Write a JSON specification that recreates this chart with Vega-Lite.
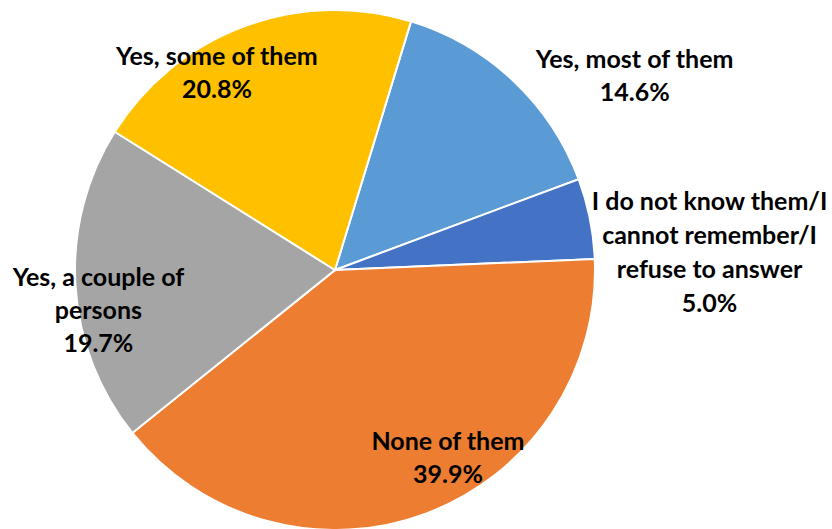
{
  "$schema": "https://vega.github.io/schema/vega-lite/v6.json",
  "width": 670,
  "height": 518,
  "autosize": {"type": "none"},
  "padding": {"left": 0, "top": 11, "right": 162, "bottom": 0},
  "background": "white",
  "config": {"view": {"stroke": null}},
  "data": {
    "values": [
      {"answer": "Yes, most of them", "share": 14.6, "ord": 1, "label": "Yes, most of them\n14.6%"},
      {"answer": "I do not know them/I cannot remember/I refuse to answer", "share": 5.0, "ord": 2, "label": "I do not know them/I\ncannot remember/I\nrefuse to answer\n5.0%"},
      {"answer": "None of them", "share": 39.9, "ord": 3, "label": "None of them\n39.9%"},
      {"answer": "Yes, a couple of persons", "share": 19.7, "ord": 4, "label": "Yes, a couple of\npersons\n19.7%"},
      {"answer": "Yes, some of them", "share": 20.8, "ord": 5, "label": "Yes, some of them\n20.8%"}
    ]
  },
  "encoding": {
    "theta": {"field": "share", "type": "quantitative", "stack": true, "scale": {"range": [0.2967, 6.5799]}},
    "order": {"field": "ord", "type": "quantitative"}
  },
  "layer": [
    {
      "mark": {"type": "arc", "outerRadius": 260, "stroke": "white", "strokeWidth": 2},
      "encoding": {
        "color": {
          "field": "answer", "type": "nominal", "legend": null,
          "scale": {
            "domain": ["Yes, most of them", "I do not know them/I cannot remember/I refuse to answer", "None of them", "Yes, a couple of persons", "Yes, some of them"],
            "range": ["#5B9BD5", "#4472C4", "#ED7D31", "#A5A5A5", "#FFC000"]
          }
        }
      }
    },
    {
      "mark": {"type": "text", "radius": 300, "dx": 94, "dy": 8, "font": "Lato", "fontWeight": "bold", "fontSize": 25, "lineBreak": "\n", "lineHeight": 33, "align": "center", "baseline": "middle", "color": "black"},
      "encoding": {"text": {"condition": {"test": "datum.ord == 1", "field": "label"}, "value": ""}}
    },
    {
      "mark": {"type": "text", "radius": 375, "dx": 7, "dy": 6, "font": "Lato", "fontWeight": "bold", "fontSize": 25, "lineBreak": "\n", "lineHeight": 34, "align": "center", "baseline": "middle", "color": "black"},
      "encoding": {"text": {"condition": {"test": "datum.ord == 2", "field": "label"}, "value": ""}}
    },
    {
      "mark": {"type": "text", "radius": 210, "dx": 39, "dy": -25, "font": "Lato", "fontWeight": "bold", "fontSize": 25, "lineBreak": "\n", "lineHeight": 33, "align": "center", "baseline": "middle", "color": "black"},
      "encoding": {"text": {"condition": {"test": "datum.ord == 3", "field": "label"}, "value": ""}}
    },
    {
      "mark": {"type": "text", "radius": 237, "dx": 0, "dy": -6, "font": "Lato", "fontWeight": "bold", "fontSize": 25, "lineBreak": "\n", "lineHeight": 33, "align": "center", "baseline": "middle", "color": "black"},
      "encoding": {"text": {"condition": {"test": "datum.ord == 4", "field": "label"}, "value": ""}}
    },
    {
      "mark": {"type": "text", "radius": 215, "dx": -43, "dy": -12, "font": "Lato", "fontWeight": "bold", "fontSize": 25, "lineBreak": "\n", "lineHeight": 33, "align": "center", "baseline": "middle", "color": "black"},
      "encoding": {"text": {"condition": {"test": "datum.ord == 5", "field": "label"}, "value": ""}}
    }
  ]
}
